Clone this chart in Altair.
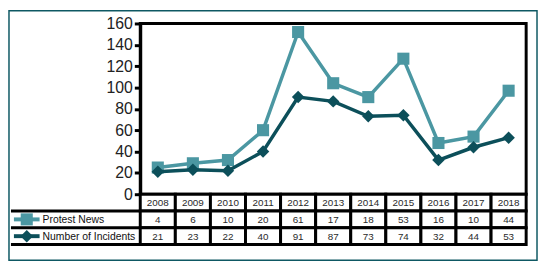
import altair as alt
import pandas as pd

# ---- data ----
years = [2008, 2009, 2010, 2011, 2012, 2013, 2014, 2015, 2016, 2017, 2018]
protest_news = [4, 6, 10, 20, 61, 17, 18, 53, 16, 10, 44]
incidents = [21, 23, 22, 40, 91, 87, 73, 74, 32, 44, 53]
series_names = ["Protest News", "Number of Incidents"]
series_colors = ["#4b97a2", "#0c4f5a"]
series_shapes = ["square", "diamond"]
series_sizes = [150, 160]
y_ticks = [0, 20, 40, 60, 80, 100, 120, 140, 160]

# ---- layout constants ----
W, H = 391, 173
ROW_H = 17
FONT = "Liberation Sans"

df = pd.DataFrame({"year": years, "pn": protest_news, "inc": incidents})
df["pn_top"] = df["pn"] + df["inc"]  # stacked line
series_values = {"Protest News": "pn_top", "Number of Incidents": "inc"}
table_fields = {"Protest News": "pn", "Number of Incidents": "inc"}

xq = alt.X("year:Q", scale=alt.Scale(domain=[2007.5, 2018.5], nice=False, zero=False), axis=None)
base = alt.Chart(df)
one = pd.DataFrame({"k": [0]})

layers = []

# outer frame
layers.append(
    alt.Chart(one).mark_rect(fill="white", fillOpacity=0, stroke="#0e5863", strokeWidth=1.5).encode(
        x=alt.value(-133), x2=alt.value(402), y=alt.value(-13), y2=alt.value(240)
    )
)

# lines + markers
for name, color, shape, size in zip(series_names, series_colors, series_shapes, series_sizes):
    yenc = alt.Y(
        f"{series_values[name]}:Q",
        scale=alt.Scale(domain=[0, 160], nice=False),
        axis=alt.Axis(values=y_ticks, title=None, grid=False, domainColor="black", domainWidth=3,
                      tickColor="black", tickWidth=3, tickSize=6, labelFont=FONT, labelFontSize=16,
                      labelColor="#222", labelPadding=2),
    )
    layers.append(base.mark_line(color=color, strokeWidth=3.5).encode(x=xq, y=yenc))
    layers.append(base.mark_point(color=color, filled=True, opacity=1, shape=shape, size=size).encode(x=xq, y=yenc))

# table cells
rect_kw = dict(fill="white", stroke="black", strokeWidth=3)
cell = base.transform_calculate(x0="datum.year - 0.5", x1="datum.year + 0.5")
row_fields = [("year", "N"), (table_fields["Protest News"], "Q"), (table_fields["Number of Incidents"], "Q")]
for i, (field, t) in enumerate(row_fields):
    y0 = H + i * ROW_H
    layers.append(
        cell.mark_rect(**rect_kw).encode(
            x=alt.X("x0:Q", scale=alt.Scale(domain=[2007.5, 2018.5], nice=False, zero=False), axis=None),
            x2="x1:Q", y=alt.value(y0), y2=alt.value(y0 + ROW_H)
        )
    )
    layers.append(
        base.mark_text(font=FONT, fontSize=10, color="#2a2a2a", baseline="middle").encode(
            x=xq, y=alt.value(y0 + ROW_H / 2 + 0.5), text=alt.Text(f"{field}:{t}")
        )
    )

# legend column lines
for i in range(1, 4):
    layers.append(
        alt.Chart(one).mark_rule(color="black", strokeWidth=3).encode(
            x=alt.value(-131), x2=alt.value(0), y=alt.value(H + i * ROW_H)
        )
    )

# legend entries
for i, (name, color, shape, size) in enumerate(zip(series_names, series_colors, series_shapes, series_sizes)):
    yc = H + (i + 1) * ROW_H + ROW_H / 2
    layers.append(
        alt.Chart(one).mark_rule(color=color, strokeWidth=4).encode(
            x=alt.value(-128), x2=alt.value(-102), y=alt.value(yc)
        )
    )
    layers.append(
        alt.Chart(one).mark_point(color=color, filled=True, opacity=1, shape=shape, size=size).encode(
            x=alt.value(-115), y=alt.value(yc)
        )
    )
    layers.append(
        alt.Chart(pd.DataFrame({"label": [name]})).mark_text(
            font=FONT, fontSize=10.5, color="#111", align="left", baseline="middle"
        ).encode(x=alt.value(-99), y=alt.value(yc + 0.5), text="label:N")
    )

chart = alt.layer(*layers).properties(
    width=W, height=H, padding=0
).configure_view(stroke="black", strokeWidth=3)

chart.save("out.html", embed_options={"renderer": "svg", "actions": False})
